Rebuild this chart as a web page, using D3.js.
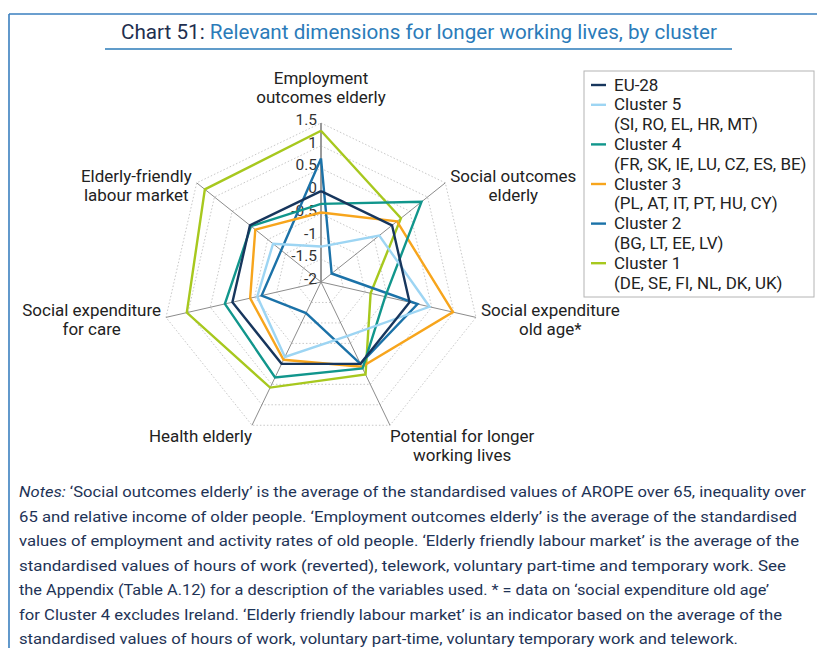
<!DOCTYPE html>
<html><head><meta charset="utf-8">
<script src="https://cdn.jsdelivr.net/npm/d3@7/dist/d3.min.js"></script>
<style>
body{margin:0;background:#fff;}
text{font-family:Roboto,"Open Sans",sans-serif;}
</style></head>
<body>
<svg id="chart" width="817" height="648"></svg>
<script>
const axes = [["Employment","outcomes elderly"],["Social outcomes","elderly"],["Social expenditure","old age*"],["Potential for longer","working lives"],["Health elderly"],["Social expenditure","for care"],["Elderly-friendly","labour market"]];
const ticks = [-2,-1.5,-1,-0.5,0,0.5,1,1.5];
const seriesNames = ["EU-28","Cluster 5","Cluster 4","Cluster 3","Cluster 2","Cluster 1"];
const seriesSub = ["","(SI, RO, EL, HR, MT)","(FR, SK, IE, LU, CZ, ES, BE)","(PL, AT, IT, PT, HU, CY)","(BG, LT, EE, LV)","(DE, SE, FI, NL, DK, UK)"];
const colors = ["#17365d","#9dd5f3","#11968c","#f7a51c","#1b72a8","#a7c81e"];
const eu28     = [0, 0, 0, 0, 0, 0, 0];
const cluster5 = [-1.22, -0.36, 0.45, -0.68, -0.17, -0.56, -0.65];
const cluster4 = [-0.28, 0.83, -0.55, 0.11, 0.33, 0.17, -0.03];
const cluster3 = [-0.47, 0.14, 0.98, 0.07, -0.1, -0.4, -0.15];
const cluster2 = [0.72, -1.7, 0.18, 0.0, -1.24, -0.66, -0.88];
const cluster1 = [1.33, 0.25, -0.88, 0.26, 0.58, 1.03, 1.27];
const seriesValues = [eu28, cluster5, cluster4, cluster3, cluster2, cluster1];
const noteLines = [
 ["Notes:"," ‘Social outcomes elderly’ is the average of the standardised values of AROPE over 65, inequality over"],
 ["","65 and relative income of older people. ‘Employment outcomes elderly’ is the average of the standardised"],
 ["","values of employment and activity rates of old people. ‘Elderly friendly labour market’ is the average of the"],
 ["","standardised values of hours of work (reverted), telework, voluntary part-time and temporary work. See"],
 ["","the Appendix (Table A.12) for a description of the variables used. * = data on ‘social expenditure old age’"],
 ["","for Cluster 4 excludes Ireland. ‘Elderly friendly labour market’ is an indicator based on the average of the"],
 ["","standardised values of hours of work, voluntary part-time, voluntary temporary work and telework."]
];
const noteWidths = [787, 778, 780, 767, 750, 763, 719];

const svg = d3.select("#chart");
const FS = 16;
// horizontal stretch factor so the label font matches the reference letter widths
const probe = svg.append("text").attr("font-size",FS).text("Social outcomes");
const K = 126 / probe.node().getComputedTextLength();
probe.remove();
const stretch = t => { const w = t.node().getComputedTextLength(); t.attr("textLength", w*K).attr("lengthAdjust","spacingAndGlyphs"); return w*K; };

// frame
svg.append("line").attr("x1",9).attr("y1",14).attr("x2",817).attr("y2",14).attr("stroke","#3a7fbf").attr("stroke-width",1.6);
svg.append("line").attr("x1",9).attr("y1",14).attr("x2",9).attr("y2",648).attr("stroke","#3a7fbf").attr("stroke-width",1.6);

// title
const title = svg.append("text").attr("x",121).attr("y",39).attr("font-size",21)
  .attr("font-family","'Open Sans', sans-serif").attr("textLength",596).attr("lengthAdjust","spacingAndGlyphs");
title.append("tspan").attr("fill","#1f2f4f").text("Chart 51: ");
title.append("tspan").attr("fill","#2b7bb9").text("Relevant dimensions for longer working lives, by cluster");
svg.append("line").attr("x1",105).attr("x2",732).attr("y1",49).attr("y2",49).attr("stroke","#2b7bb9").attr("stroke-width",1.5);

// radar
const cx = 321, cy = 282, R = 159;
const r = d3.scaleLinear().domain([-2,1.5]).range([0,R]);
const n = axes.length;
const ang = i => i*2*Math.PI/n;
const pt = (i,v) => [cx + r(v)*Math.sin(ang(i)), cy - r(v)*Math.cos(ang(i))];
const g = svg.append("g");

ticks.slice(1).forEach(t=>{
  g.append("path").attr("d", d3.line()(d3.range(n+1).map(i=>pt(i%n,t))))
   .attr("fill","none").attr("stroke","#c8c8c8").attr("stroke-width",1).attr("stroke-dasharray","1.5,2");
});
d3.range(n).forEach(i=>{
  const e = pt(i,1.5);
  g.append("line").attr("x1",cx).attr("y1",cy).attr("x2",e[0]).attr("y2",e[1])
   .attr("stroke", i===0 ? "#9a9a9a" : "#8c8c8c").attr("stroke-width", i===0 ? 2 : 1);
});
ticks.forEach(t=>{
  const tx = g.append("text").attr("x",cx-4).attr("y",cy - r(t) - 3).attr("text-anchor","end")
   .attr("dominant-baseline","central").attr("font-size",15.5).attr("fill","#333").text(t);
});

// series (EU-28 on top)
seriesValues.map((vals,k)=>({vals,k})).reverse().forEach(({vals,k})=>{
  g.append("path").attr("d", d3.line()(vals.map((v,i)=>pt(i,v)).concat([pt(0,vals[0])])))
   .attr("fill","none").attr("stroke",colors[k]).attr("stroke-width",2.4).attr("stroke-linejoin","miter");
});

// axis labels
const lh = 19;
axes.forEach((lines,i)=>{
  const e = pt(i,1.5);
  const s = Math.sin(ang(i)), c = Math.cos(ang(i));
  const grp = g.append("g");
  const txts = lines.map(l=>grp.append("text").attr("font-size",FS).attr("fill","#222").attr("text-anchor","middle").attr("dominant-baseline","central").text(l));
  const w = d3.max(txts, t=>stretch(t));
  let xc, y0;
  if (Math.abs(s) < 0.1) { xc = e[0]; y0 = e[1] - 26 - (lines.length-1)*lh; }
  else {
    const off = 5;
    xc = s>0 ? e[0] + off + w/2 : e[0] - off - w/2;
    if (c < -0.8) { xc = s>0 ? e[0] + w/2 : e[0] - w/2; y0 = e[1] + 11; }
    else y0 = e[1] + 3 - (lines.length-1)*lh/2;
  }
  txts.forEach((t,j)=>t.attr("x",xc).attr("y",y0 + j*lh));
});

// legend
const lx = 584, ly = 71;
svg.append("rect").attr("x",lx).attr("y",ly).attr("width",230).attr("height",226)
  .attr("fill","#fff").attr("stroke","#b4b4b4").attr("stroke-width",1);
let row = 0;
seriesNames.forEach((nm,k)=>{
  const y = 85 + row*19.8;
  svg.append("line").attr("x1",591).attr("x2",606).attr("y1",y).attr("y2",y).attr("stroke",colors[k]).attr("stroke-width",2.4);
  stretch(svg.append("text").attr("x",614).attr("y",y).attr("dominant-baseline","central").attr("font-size",FS).attr("fill","#222").text(nm));
  row++;
  if (seriesSub[k]) {
    stretch(svg.append("text").attr("x",614).attr("y",85 + row*19.8).attr("dominant-baseline","central").attr("font-size",FS).attr("fill","#222").text(seriesSub[k]));
    row++;
  }
});

// notes
noteLines.forEach((ln,j)=>{
  const t = svg.append("text").attr("x",19).attr("y",497 + j*24.5).attr("font-size",15).attr("fill","#1e3356")
    .attr("font-family","'Open Sans', sans-serif")
    .attr("textLength",noteWidths[j]).attr("lengthAdjust","spacingAndGlyphs");
  if (ln[0]) t.append("tspan").attr("font-style","italic").text(ln[0]);
  t.append("tspan").text(ln[1]);
});
</script>
</body></html>
